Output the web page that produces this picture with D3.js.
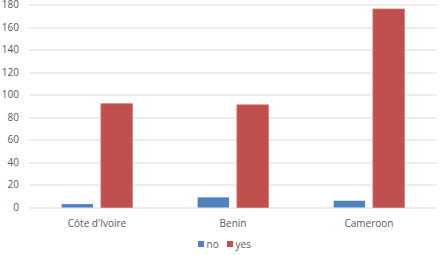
<!DOCTYPE html>
<html>
<head>
<meta charset="utf-8">
<script src="https://cdn.jsdelivr.net/npm/d3@7"></script>
<style>
  body { margin: 0; background: #fff; }
  text { font-family: "Open Sans", "Noto Sans", Arial, sans-serif; fill: #595959; }
</style>
</head>
<body>
<svg id="chart" width="440" height="255"></svg>
<script>
// chart data
var countries = ["Côte d'Ivoire", "Benin", "Cameroon"];
var seriesNames = ["no", "yes"];
var noValues = [3, 9, 6];
var yesValues = [92, 91, 176];
var yTicks = [0, 20, 40, 60, 80, 100, 120, 140, 160, 180];
var colors = ["#4f81bd", "#c0504d"];

var svg = d3.select("#chart");
var margin = { left: 29, right: 3, top: 4.5, bottom: 47.5 };
var width = 440 - margin.left - margin.right;
var height = 255 - margin.top - margin.bottom;

var g = svg.append("g")
    .attr("transform", "translate(" + margin.left + "," + margin.top + ")");

var x = d3.scaleBand()
    .domain(countries)
    .range([0, width]);

var xInner = d3.scaleBand()
    .domain(seriesNames)
    .range([x.bandwidth() * 0.24, x.bandwidth() * 0.76])
    .paddingInner(0.2);

var y = d3.scaleLinear()
    .domain([0, 180])
    .range([height, 0]);

// gridlines
g.selectAll(".grid")
    .data(yTicks)
    .enter().append("line")
    .attr("x1", 0)
    .attr("x2", width)
    .attr("y1", function(d) { return Math.round(y(d)) + 0.5; })
    .attr("y2", function(d) { return Math.round(y(d)) + 0.5; })
    .attr("stroke", "#d9d9d9")
    .attr("stroke-width", 1);

// y tick labels
g.selectAll(".ylab")
    .data(yTicks)
    .enter().append("text")
    .attr("x", -10)
    .attr("y", function(d) { return y(d); })
    .attr("dy", "0.35em")
    .attr("text-anchor", "end")
    .style("font-size", "10px")
    .text(function(d) { return d; });

// bars
var rows = countries.map(function(c, i) {
    return { country: c, values: [noValues[i], yesValues[i]] };
});

var groups = g.selectAll(".grp")
    .data(rows)
    .enter().append("g")
    .attr("transform", function(d) { return "translate(" + x(d.country) + ",0)"; });

groups.selectAll("rect")
    .data(function(d) { return d.values.map(function(v, j) { return { name: seriesNames[j], value: v, j: j }; }); })
    .enter().append("rect")
    .attr("x", function(d) { return xInner(d.name); })
    .attr("width", xInner.bandwidth())
    .attr("y", function(d) { return y(d.value); })
    .attr("height", function(d) { return y(0) - y(d.value); })
    .attr("fill", function(d) { return colors[d.j]; })
    .attr("stroke", function(d) { return d.j === 1 ? "#d27472" : "none"; })
    .attr("stroke-width", 0.8);

// category labels
g.selectAll(".xlab")
    .data(countries)
    .enter().append("text")
    .attr("x", function(d) { return x(d) + x.bandwidth() / 2; })
    .attr("y", height + 19)
    .attr("text-anchor", "middle")
    .style("font-size", "10px")
    .text(function(d) { return d; });

// legend
var legend = svg.append("g").attr("transform", "translate(198,248)");
var legendX = [0, 29];
seriesNames.forEach(function(name, i) {
    legend.append("rect")
        .attr("x", legendX[i])
        .attr("y", -7)
        .attr("width", 6)
        .attr("height", 6)
        .attr("fill", colors[i]);
    legend.append("text")
        .attr("x", legendX[i] + 8.5)
        .attr("y", 0)
        .style("font-size", "10px")
        .text(name);
});
</script>
</body>
</html>
